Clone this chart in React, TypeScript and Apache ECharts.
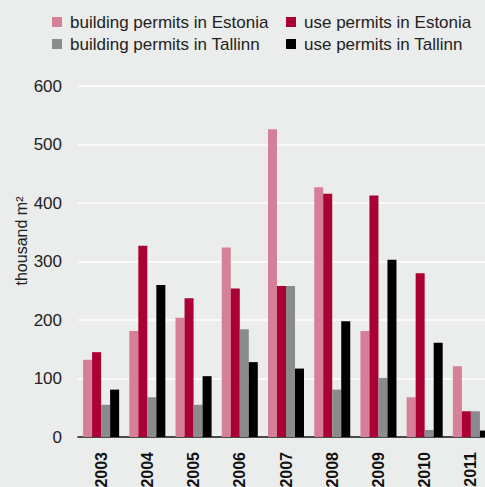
import React, { useEffect, useRef } from "react";
import * as echarts from "echarts";

const years = ["2003", "2004", "2005", "2006", "2007", "2008", "2009", "2010", "2011"];
const buildingEstonia = [132, 181, 204, 324, 526, 427, 181, 68, 121];
const useEstonia = [145, 327, 237, 254, 258, 416, 413, 280, 44];
const buildingTallinn = [55, 68, 55, 184, 258, 81, 101, 12, 44];
const useTallinn = [81, 260, 104, 128, 117, 198, 303, 161, 11];
const seriesNames = [
  "building permits in Estonia",
  "use permits in Estonia",
  "building permits in Tallinn",
  "use permits in Tallinn",
];
const colors = ["#D67F98", "#AA0034", "#8A8B8C", "#000000"];
const FONT = "Liberation Sans, Arial, Helvetica, sans-serif";

export default function App() {
  const ref = useRef<HTMLDivElement>(null);
  useEffect(() => {
    if (!ref.current) return;
    const chart = echarts.init(ref.current, undefined, { renderer: "svg" });
    const data = [buildingEstonia, useEstonia, buildingTallinn, useTallinn];
    const legendPos = [
      { left: 52, top: 13.5 },
      { left: 286, top: 13.5 },
      { left: 52, top: 35.5 },
      { left: 286, top: 35.5 },
    ];
    chart.setOption({
      animation: false,
      backgroundColor: "#EBECEC",
      textStyle: { fontFamily: FONT },
      legend: seriesNames.map((n, i) => ({
        data: [n],
        left: legendPos[i].left,
        top: legendPos[i].top,
        icon: "rect",
        itemWidth: 10,
        itemHeight: 10,
        padding: 0,
        textStyle: { fontSize: 17, color: "#222", fontFamily: FONT, padding: [0, 0, 0, 3] },
      })),
      grid: {
        left: 78,
        right: -9,
        top: 86,
        bottom: 50,
        containLabel: false,
        outerBoundsMode: "none",
      },
      xAxis: {
        type: "category",
        data: years,
        axisLine: { show: true, lineStyle: { color: "#111", width: 1.5 } },
        axisTick: { show: false },
        axisLabel: {
          rotate: 90,
          margin: 15,
          fontSize: 16,
          fontWeight: "bold",
          color: "#111",
          fontFamily: FONT,
        },
      },
      yAxis: {
        type: "value",
        min: 0,
        max: 600,
        interval: 100,
        axisLine: { show: false },
        axisTick: { show: false },
        splitLine: { lineStyle: { color: "#FFFFFF", width: 1.5 } },
        axisLabel: { fontSize: 17, color: "#222", margin: 16, fontFamily: FONT },
      },
      graphic: [
        {
          type: "text",
          x: 21,
          y: 241,
          rotation: Math.PI / 2,
          style: {
            text: "thousand m²",
            fontSize: 16,
            fill: "#222",
            fontFamily: FONT,
            textAlign: "center",
            textVerticalAlign: "middle",
          },
        },
      ],
      series: seriesNames.map((n, i) => ({
        name: n,
        type: "bar",
        data: data[i],
        barGap: "0%",
        barCategoryGap: "22%",
        itemStyle: { color: colors[i] },
      })),
    });
    return () => chart.dispose();
  }, []);
  return (
    <div
      ref={ref}
      style={{ position: "fixed", left: 0, top: 0, width: 485, height: 487 }}
    />
  );
}
